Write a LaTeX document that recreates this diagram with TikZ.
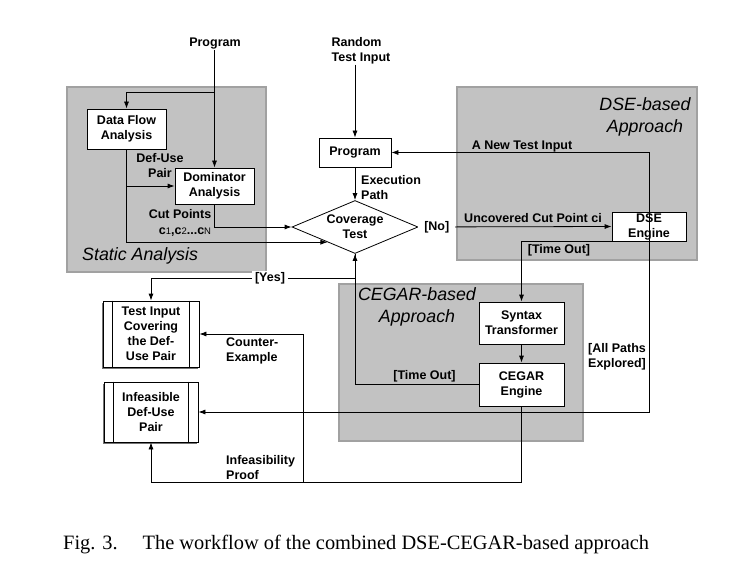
\documentclass[tikz,border=0pt]{standalone}
\usepackage{fontspec}
\setmainfont{Liberation Sans}
\newfontfamily\capfont{Liberation Serif}
\usetikzlibrary{arrows.meta,calc,shadows,shapes.geometric}
\begin{document}
\begin{tikzpicture}[x=1pt,y=-1pt,
  every node/.style={font=\fontsize{12.5}{15}\selectfont\bfseries, align=center, inner sep=0pt},
  proc/.style={draw, fill=white, line width=0.8pt},
  region/.style={draw=black!37, fill=black!24, line width=2pt},
  reglab/.style={font=\fontsize{17.8}{21.5}\selectfont\mdseries\itshape},
  arr/.style={line width=0.8pt, -{Latex[length=7pt,width=5pt]}},
  shad/.style={drop shadow={shadow xshift=-1.5pt, shadow yshift=-1.5pt, fill=black!55, opacity=1}}
]
\useasboundingbox (0,0) rectangle (729,583);
% regions
\draw[region] (67,87) rectangle (266,272);
\draw[region] (457,87) rectangle (697,260);
\draw[region] (339,284) rectangle (583,441);
\node[reglab, anchor=west] (sal) at (82,256) {Static Analysis};
\node[reglab] (dsel) at (645,117) {DSE-based\\Approach};
\node[reglab] (cgl) at (417,307) {CEGAR-based\\Approach};
% boxes
\node[proc, minimum width=79pt, minimum height=40pt] (dfa) at (126.5,129) {Data Flow\\Analysis};
\node[proc, minimum width=79pt, minimum height=36pt] (dom) at (214.5,186) {Dominator\\Analysis};
\node[proc, minimum width=72pt, minimum height=29pt] (pbox) at (355,152.5) {Program};
\node[proc, diamond, shape aspect=2.4, minimum width=126pt, minimum height=53pt] (cov) at (355,227) {Coverage\\Test};
\node[proc, minimum width=74pt, minimum height=29pt] (dse) at (649,226.5) {DSE\\Engine};
\node[proc, minimum width=85pt, minimum height=42pt] (syn) at (521.5,323) {Syntax\\Transformer};
\node[proc, minimum width=85pt, minimum height=43pt] (ceg) at (521.5,384.5) {CEGAR\\Engine};
\node[proc, shad, minimum width=96pt, minimum height=66pt] (tin) at (151,334) {Test Input\\Covering\\the Def-\\Use Pair};
\node[proc, shad, minimum width=94pt, minimum height=60pt] (inf) at (151,412) {Infeasible\\Def-Use\\Pair};
\foreach \n in {tin,inf}{
  \draw[line width=0.8pt] ([xshift=10pt]\n.north west) -- ([xshift=10pt]\n.south west);
  \draw[line width=0.8pt] ([xshift=-10pt]\n.north east) -- ([xshift=-10pt]\n.south east);
}
% inputs
\node (pin) at (215,44) {Program};
\node[align=left] (rti) at (361,51) {Random\\Test Input};
% connectors
\coordinate (br) at (214.5,92);
\coordinate (cl) at ($(cov.west)!0.566!(cov.south)$);
\coordinate (yy) at (0,278);
\coordinate (bot) at (0,482);
\coordinate (ce) at (303,482);
\draw[arr] (pin.south -| dom.north) -- (dom.north);
\draw[arr] (br) -| (dfa.north);
\draw[arr] (dfa.south) |- (cl);
\draw[arr] (dfa.south |- dom.west) -- (dom.west);
\draw[arr] (dom.south) |- (cov.west);
\draw[arr] (rti.south -| pbox.north) -- (pbox.north);
\draw[arr] (pbox.south) -- (cov.north);
\draw[arr] (cov.east) -- node[pos=0.095, fill=white, minimum width=37pt, minimum height=14pt] {[No]} (dse.west);
\draw[arr] (dse.center) |- (pbox.east);
\draw[arr] ($(dse.south west)+(10,0)$) -| (syn.north);
\draw[arr] (syn.south) -- (ceg.north);
\draw[arr] (ceg.west) -| (cov.south);
\draw[arr] (cov.south) -- (cov.south |- yy) -| (tin.north);
\draw[arr] (ceg.south) |- (inf.south |- bot) -- (inf.south);
\draw[arr] (ce) |- (tin.east);
\draw[arr] (dse.center) |- (inf.east);
% labels
\node[fill=white, inner xsep=3pt, inner ysep=1pt] (yes) at (270,278) {[Yes]};
\node (dup) at (160,166) {Def-Use\\Pair};
\node (cp) at (180,214) {Cut Points};
\node (cn) at (185,232) {c{\fontsize{9.5}{10}\selectfont\mdseries 1},c{\fontsize{9.5}{10}\selectfont\mdseries 2}...c{\fontsize{9.5}{10}\selectfont\mdseries N}};
\node[align=left, anchor=west] (ep) at (361,187.5) {Execution\\Path};
\node (nti) at (522,146) {A New Test Input};
\node (ucp) at (533,218) {Uncovered Cut Point ci};
\node (to1) at (559,250) {[Time Out]};
\node (to2) at (424.5,376) {[Time Out]};
\node[align=left, anchor=west] (ape) at (588,357) {[All Paths\\Explored]};
\node[align=left, anchor=west] (cex) at (226,350.5) {Counter-\\Example};
\node[align=left, anchor=west] (ifp) at (226,468) {Infeasibility\\Proof};
% caption
\node[anchor=west, font=\capfont\fontsize{20.4}{24}\selectfont] (cap) at (63,545) {Fig. 3.\hspace{25pt}The workflow of the combined DSE-CEGAR-based approach};
\end{tikzpicture}
\end{document}
